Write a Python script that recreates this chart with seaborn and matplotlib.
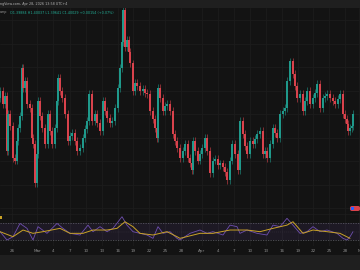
import numpy as np
import pandas as pd
import seaborn as sns
import matplotlib
matplotlib.use("Agg")
import matplotlib.pyplot as plt
from matplotlib.patches import Rectangle, FancyBboxPatch

# ---------------- data ----------------
bar_t = [0, 3, 5, 7, 8, 10, 13, 15, 17, 18,
         20, 22, 23, 25, 27, 30, 32, 33, 35, 37,
         38, 40, 42, 45, 48, 50, 52, 55, 57, 58,
         60, 62, 65, 68, 70, 72, 75, 77, 80, 83,
         85, 87, 89, 92, 95, 97, 100, 103, 105, 107,
         110, 112, 115, 118, 120, 122, 123, 125, 127, 129,
         130, 133, 135, 137, 140, 143, 145, 147, 150, 153,
         155, 157, 158, 160, 163, 165, 167, 170, 173, 175,
         177, 180, 183, 185, 188, 190, 192, 193, 195, 198,
         200, 202, 205, 207, 210, 213, 215, 218, 220, 223,
         225, 227, 230, 232, 235, 238, 240, 243, 245, 247,
         250, 253, 255, 257, 260, 263, 265, 267, 270, 273,
         275, 277, 280, 283, 285, 287, 290, 293, 295, 297,
         300, 303, 305, 307, 310, 313, 315, 317, 320, 323,
         325, 327, 330, 333, 335, 338, 340, 343, 345, 347,
         348, 350, 352, 353]
close = [125, 112, 120, 65, 102, 90, 58, 55, 75, 88,
         100, 148, 128, 135, 112, 108, 78, 72, 32, 62,
         115, 100, 88, 72, 102, 85, 72, 88, 115, 138,
         125, 118, 102, 75, 80, 83, 75, 65, 68, 78,
         87, 95, 122, 95, 102, 93, 85, 115, 105, 98,
         93, 95, 108, 128, 148, 175, 207, 170, 177, 165,
         153, 125, 133, 130, 125, 127, 123, 122, 105, 97,
         88, 78, 128, 118, 105, 110, 112, 105, 82, 75,
         68, 58, 65, 72, 58, 52, 45, 75, 65, 55,
         62, 68, 78, 65, 42, 55, 57, 50, 52, 48,
         43, 35, 55, 72, 62, 45, 95, 82, 70, 62,
         75, 72, 77, 82, 85, 62, 65, 58, 72, 88,
         83, 78, 102, 105, 108, 135, 155, 142, 130, 118,
         122, 105, 115, 125, 112, 118, 123, 132, 108, 118,
         120, 122, 118, 115, 112, 117, 122, 102, 97, 92,
         85, 88, 90, 102]
first_open = 118
wick = 4

rsi_t = [0, 7, 13, 20, 27, 33, 38, 47, 57, 63, 70, 80, 88, 93, 100, 107, 113, 122,
         127, 133, 140, 147, 153, 158, 163, 170, 177, 180, 190, 200, 207, 213, 223,
         230, 237, 240, 247, 257, 267, 273, 280, 287, 293, 300, 307, 313, 320, 327,
         337, 343, 347, 350, 353]
rsi = [49.6, 30, 37.8, 69, 57.4, 30, 61.4, 45.7, 69, 57.4, 45.7, 41.8, 65, 49.6,
       61.4, 49.6, 57.4, 84.8, 65, 49.6, 45.7, 41.8, 33.9, 61.4, 45.7, 49.6, 33.9,
       30, 45.7, 53.5, 45.7, 49.6, 41.8, 65, 61.4, 45.7, 53.5, 45.7, 41.8, 65, 61.4,
       81, 65, 45.7, 49.6, 61.4, 49.6, 53.5, 45.7, 33.9, 30, 37.8, 49.6]
ma_t = [0, 13, 23, 33, 43, 60, 70, 83, 93, 107, 117, 125, 133, 140, 153, 167, 177,
        180, 200, 213, 230, 247, 260, 273, 287, 293, 303, 313, 327, 340, 350]
rsi_ma = [49.6, 37.8, 53.5, 45.7, 49.6, 57.4, 45.7, 45.7, 53.5, 53.5, 57.4, 73,
          61.4, 45.7, 41.8, 49.6, 37.8, 33.9, 45.7, 45.7, 53.5, 53.5, 49.6, 57.4,
          65, 73, 45.7, 53.5, 49.6, 45.7, 33.9]

tick_pos = [12, 37, 53, 70, 86, 102, 118, 133, 149, 165, 181, 202, 218, 234, 250,
            266, 282, 298, 313, 329, 345, 359]
tick_lab = ["26", "Mar", "4", "7", "10", "13", "16", "19", "22", "25", "28", "Apr",
            "4", "7", "10", "13", "16", "19", "22", "25", "28", "M"]

header1 = "ngView.com, Apr 28, 2026 13:58 UTC+4"
header2_name = "amp"
header2_vals = "O1.39884 H1.40037 L1.39641 C1.40029 +0.00154 (+0.07%)"

# ---------------- style ----------------
BG = "#131313"
BAND = "#1f1f1f"
GRID = "#1c1c1c"
UP = "#1f998b"
DN = "#d9424c"

sns.set_style("dark", rc={"axes.facecolor": BG, "figure.facecolor": BG,
                          "axes.edgecolor": BG, "grid.color": GRID})
plt.rcParams["font.family"] = ["DejaVu Sans"]

W, H = 360, 270
fig = plt.figure(figsize=(3.6, 2.7), dpi=100, facecolor=BG)


def ax_px(x0, y0, w, h):
    return fig.add_axes([x0 / W, 1 - (y0 + h) / H, w / W, h / H])


# bands
fig.add_artist(Rectangle((0, 1 - 8 / H), 1, 8 / H, transform=fig.transFigure,
                         color=BAND, lw=0, zorder=0))
fig.add_artist(Rectangle((0, 0), 1, 15 / H, transform=fig.transFigure,
                         color=BAND, lw=0, zorder=0))

# ---------------- main price pane ----------------
ax = ax_px(0, 8, 360, 207)
df = pd.DataFrame({"t": bar_t, "close": close})
df["open"] = [first_open] + close[:-1]
df["lo"] = df[["open", "close"]].min(axis=1)
df["hi"] = df[["open", "close"]].max(axis=1)
df["col"] = np.where(df["close"] >= df["open"], UP, DN)

ax.vlines(df["t"], df["lo"] - wick, df["hi"] + wick, colors=df["col"], lw=0.4, zorder=3)
ax.bar(df["t"], (df["hi"] - df["lo"]).clip(lower=0.8), bottom=df["lo"], width=1.15,
       color=df["col"], linewidth=0, zorder=4)

ax.set_xlim(0, 360)
ax.set_ylim(0, 209)
ax.set_yticks(np.arange(6.9, 209, 23.7))
ax.set_xticks(tick_pos)
ax.grid(True, color=GRID, lw=0.6)
ax.tick_params(length=0, labelbottom=False, labelleft=False)
for s in ax.spines.values():
    s.set_visible(False)

# ---------------- RSI pane ----------------
rx = ax_px(0, 212, 360, 34)
rx.set_xlim(0, 360)
rx.set_ylim(15.9, 95.9)
rx.axhspan(30, 70, color="#7e57c2", alpha=0.10, lw=0, zorder=1)
for lvl in (30, 70):
    rx.axhline(lvl, color="#6a6a74", lw=0.45, ls=(0, (2, 2)), zorder=2)
rx.axhline(50, color="#3a3540", lw=0.35, ls=(0, (2, 2)), zorder=2)
sns.lineplot(x=rsi_t, y=rsi, ax=rx, color="#6f4fb0", lw=0.6, zorder=4)
sns.lineplot(x=ma_t, y=rsi_ma, ax=rx, color="#c9a227", lw=0.7, zorder=5)
rx.set_xticks(tick_pos)
rx.set_xticklabels(tick_lab, fontsize=3.0, color="#8c8c8c")
rx.tick_params(axis="x", length=0, pad=2.2)
rx.tick_params(axis="y", length=0, labelleft=False)
rx.grid(True, axis="x", color=GRID, lw=0.6)
rx.set_xlabel("")
rx.set_ylabel("")
for s in rx.spines.values():
    s.set_visible(False)

# pane separator
fig.add_artist(plt.Line2D([0, 1], [1 - 214 / H] * 2, transform=fig.transFigure,
                          color="#1e1e1e", lw=0.5))

# small indicator labels
fig.add_artist(FancyBboxPatch((350 / W, 1 - 211 / H), 10 / W, 5 / H,
                              boxstyle="round,pad=0,rounding_size=0.006",
                              transform=fig.transFigure, color=DN, lw=0))
fig.add_artist(Rectangle((351 / W, 1 - 210 / H), 3 / W, 3 / H,
                         transform=fig.transFigure, color="#2962ff", lw=0))
fig.add_artist(Rectangle((0, 1 - 218.5 / H), 2 / W, 2.5 / H,
                         transform=fig.transFigure, color="#c9a227", lw=0))

# header texts
fig.text(0, 1 - 4 / H, header1, fontsize=2.4, color="#b0b0b0", va="center", ha="left")
fig.text(0, 1 - 12.5 / H, header2_name, fontsize=2.4, color="#9a9a9a", va="center", ha="left")
fig.text(10 / W, 1 - 12.5 / H, header2_vals, fontsize=2.4, color="#22ab94",
         va="center", ha="left")

fig.savefig("out.png", dpi=100, facecolor=BG)
